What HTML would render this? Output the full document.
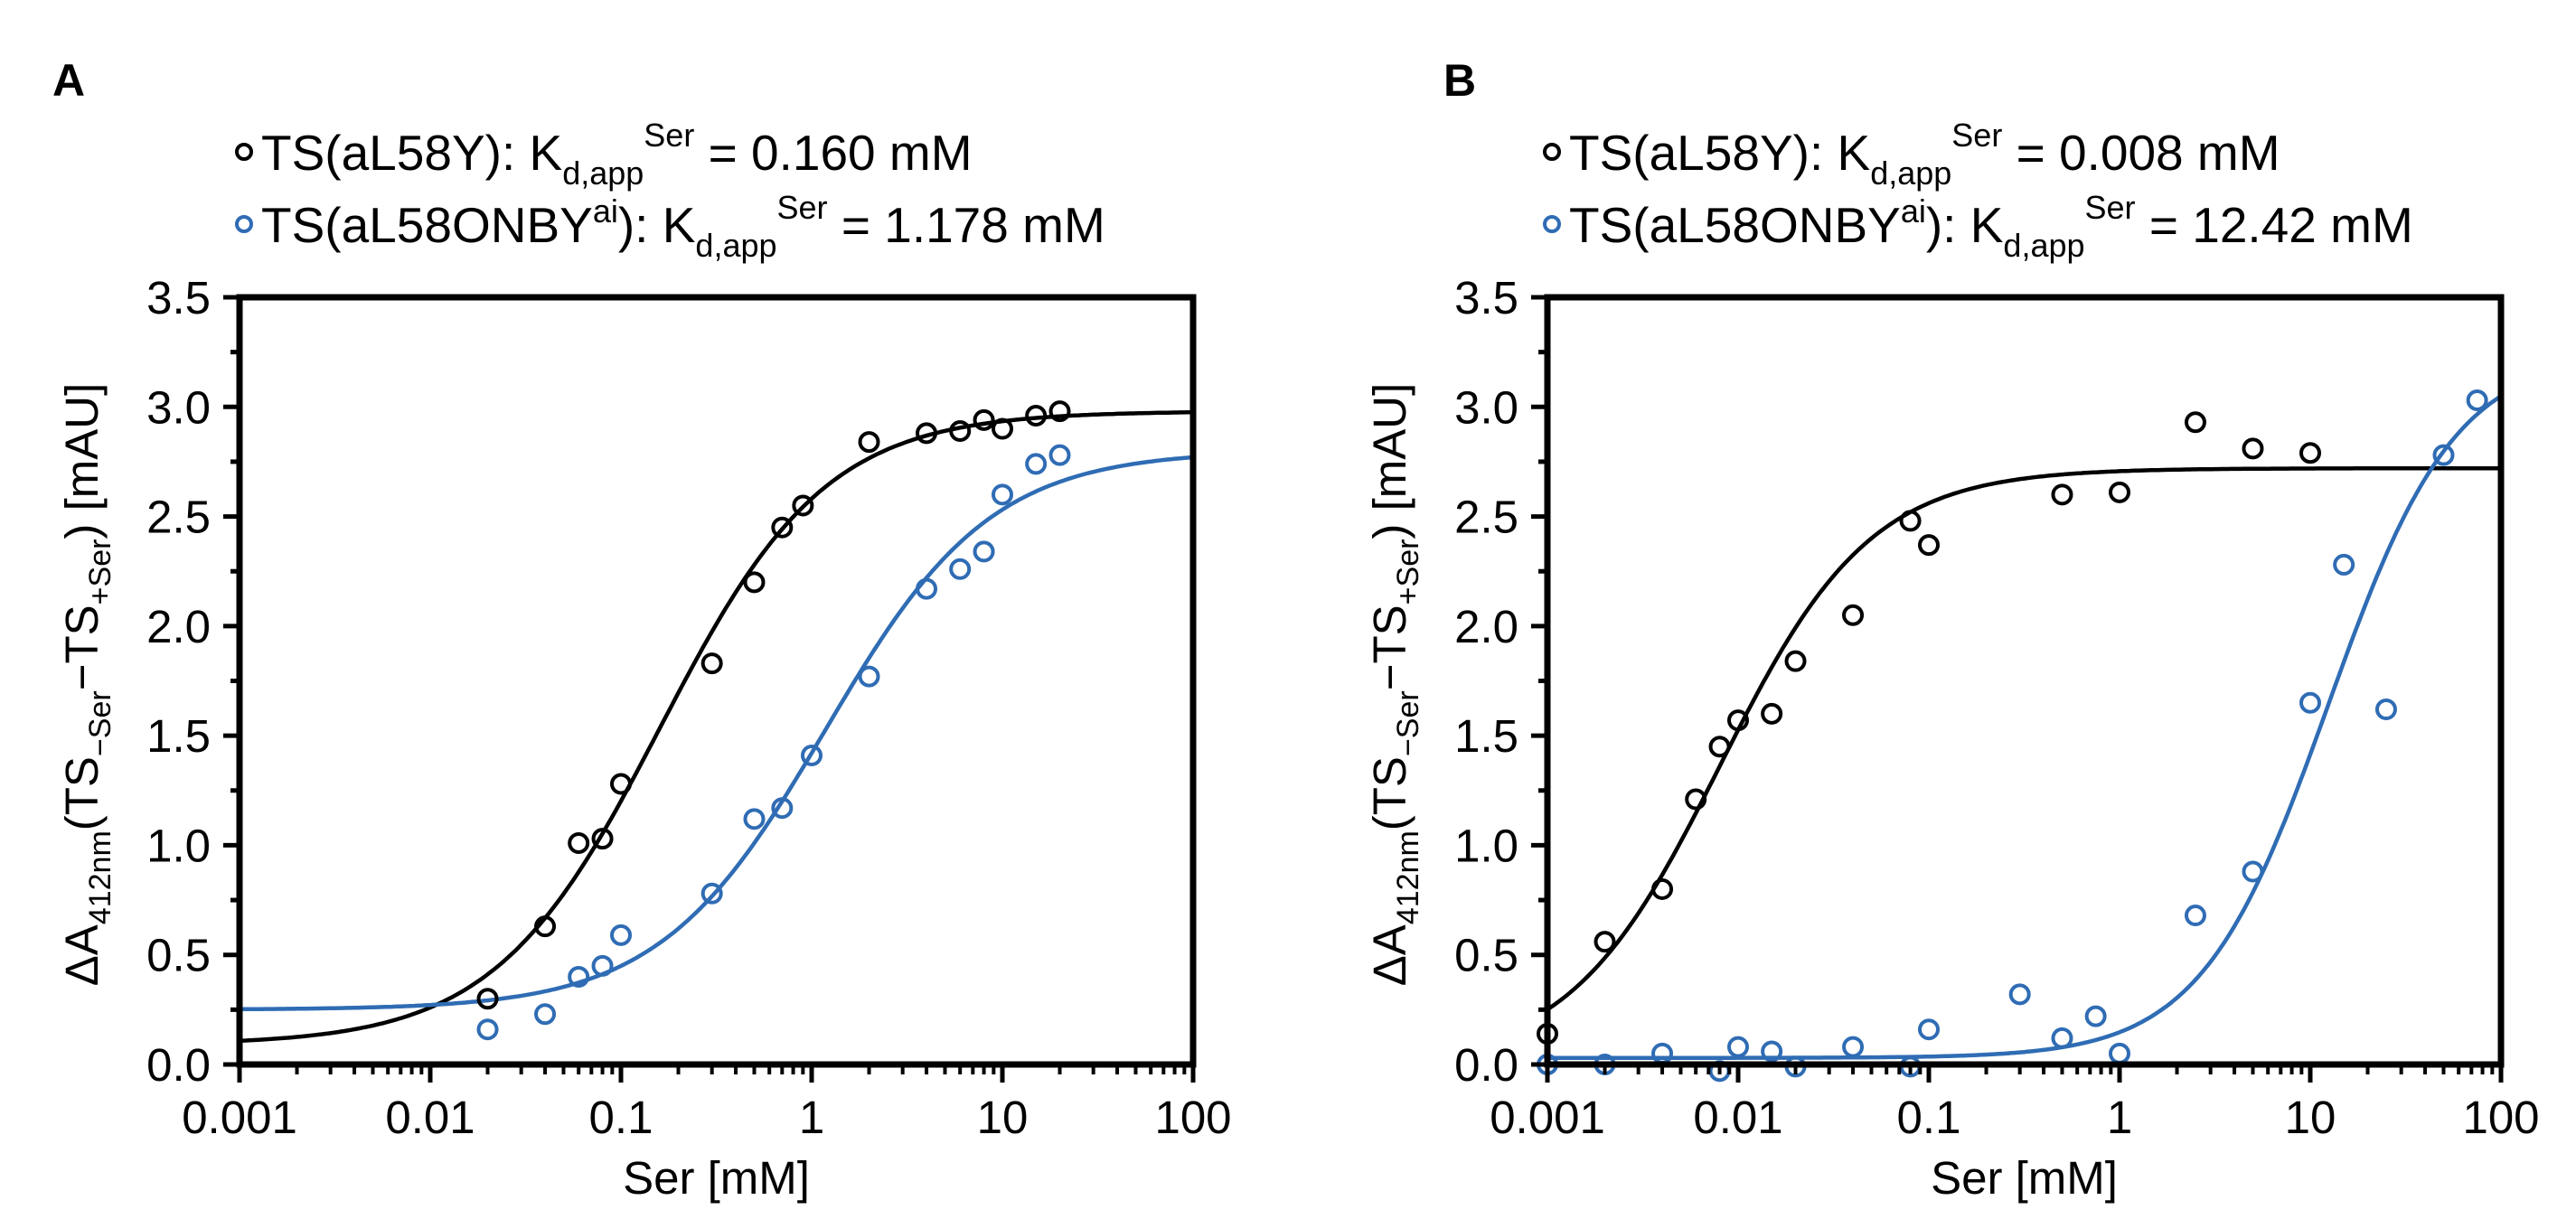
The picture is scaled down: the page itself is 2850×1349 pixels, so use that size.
<!DOCTYPE html>
<html><head><meta charset="utf-8"><style>
html,body{margin:0;padding:0;background:#fff;}
svg{display:block;font-family:"Liberation Sans",Arial,sans-serif;}
</style></head><body>
<svg id="fig" width="2850" height="1349" viewBox="0 0 2850 1349" xmlns="http://www.w3.org/2000/svg">
<rect width="2850" height="1349" fill="#fff"/>
<text x="58" y="106" font-size="50" font-weight="bold">A</text>
<text x="1597" y="106" font-size="50" font-weight="bold">B</text>
<g id="panelA"></g>
<g id="panelB"></g>
</svg>
<script>
// ---- data ----
const yTicks = [0,0.5,1.0,1.5,2.0,2.5,3.0,3.5];
const yTickLabels = ["0.0","0.5","1.0","1.5","2.0","2.5","3.0","3.5"];
const xTicks = [0.001,0.01,0.1,1,10,100];
const xTickLabels = ["0.001","0.01","0.1","1","10","100"];

const aBlackX = [0.02,0.04,0.06,0.08,0.1,0.3,0.5,0.7,0.9,2,4,6,8,10,15,20];
const aBlackY = [0.30,0.63,1.01,1.03,1.28,1.83,2.20,2.45,2.55,2.84,2.88,2.89,2.94,2.90,2.96,2.98];
const aBlueX = [0.02,0.04,0.06,0.08,0.1,0.3,0.5,0.7,1,2,4,6,8,10,15,20];
const aBlueY = [0.16,0.23,0.40,0.45,0.59,0.78,1.12,1.17,1.41,1.77,2.17,2.26,2.34,2.60,2.74,2.78];
const aBlackFit = [0.09,2.98,0.160,1.0]; // bottom, top, Kd, hill
const aBlueFit = [0.25,2.80,1.178,1.0];

const bBlackX = [0.001,0.002,0.004,0.006,0.008,0.01,0.015,0.02,0.04,0.08,0.1,0.5,1,2.5,5,10];
const bBlackY = [0.14,0.56,0.80,1.21,1.45,1.57,1.60,1.84,2.05,2.48,2.37,2.60,2.61,2.93,2.81,2.79];
const bBlueX = [0.001,0.002,0.004,0.008,0.01,0.015,0.02,0.04,0.08,0.1,0.3,0.5,0.75,1,2.5,5,10,15,25,50,75];
const bBlueY = [0.0,0.0,0.05,-0.03,0.08,0.06,-0.01,0.08,-0.01,0.16,0.32,0.12,0.22,0.05,0.68,0.88,1.65,2.28,1.62,2.78,3.03];
const bBlackFit = [0.0,2.72,0.008,1.1];
const bBlueFit = [0.03,3.25,12.42,1.3];

const legendA = ["0.160","1.178"];
const legendB = ["0.008","12.42"];

// ---- drawing ----
const NS="http://www.w3.org/2000/svg";
const BLUE="#2f6cb4";
function mk(tag,attrs,parent){const e=document.createElementNS(NS,tag);for(const k in attrs)e.setAttribute(k,attrs[k]);parent.appendChild(e);return e;}

function drawPanel(g,left,bX,bY,uX,uY,bFit,uFit,leg){
  const right=left+1055, top=329, bottom=1178;
  const sx=v=>left+(Math.log10(v)+3)*(right-left)/5;
  const sy=v=>bottom-v*(bottom-top)/3.5;
  function fitPath(p){let d="";for(let i=0;i<=300;i++){const lx=-3+5*i/300;const x=Math.pow(10,lx);const xn=Math.pow(x,p[3]);const y=p[0]+(p[1]-p[0])*xn/(Math.pow(p[2],p[3])+xn);d+=(i?"L":"M")+sx(x).toFixed(1)+","+sy(y).toFixed(1);}return d;}
  const fb=mk("path",{d:fitPath(bFit),fill:"none",stroke:"#000","stroke-width":4.5},g);
  
  
  const fu=mk("path",{d:fitPath(uFit),fill:"none",stroke:BLUE,"stroke-width":4.5},g);
  
  
  for(let i=0;i<bX.length;i++){const c=mk("circle",{cx:sx(bX[i]),cy:sy(bY[i]),r:10,fill:"none",stroke:"#000","stroke-width":4},g);
    
    }
  for(let i=0;i<uX.length;i++){const c=mk("circle",{cx:sx(uX[i]),cy:sy(uY[i]),r:10,fill:"none",stroke:BLUE,"stroke-width":4},g);
    
    }
  const fr=mk("rect",{x:left,y:top,width:right-left,height:bottom-top,fill:"none",stroke:"#000","stroke-width":7},g);
  
  
  for(let i=0;i<yTicks.length;i++){const y=sy(yTicks[i]);
    mk("line",{x1:left-18,x2:left,y1:y,y2:y,stroke:"#000","stroke-width":5},g);
    const t=mk("text",{x:left-32,y:y+18,"font-size":51,"text-anchor":"end"},g);t.textContent=yTickLabels[i];
    
    
    if(i<yTicks.length-1){const ym=sy(yTicks[i]+0.25);mk("line",{x1:left-10,x2:left,y1:ym,y2:ym,stroke:"#000","stroke-width":5},g);}
  }
  for(let i=0;i<xTicks.length;i++){const x=sx(xTicks[i]);
    mk("line",{x1:x,x2:x,y1:bottom,y2:bottom+20,stroke:"#000","stroke-width":5},g);
    const t=mk("text",{x:x,y:bottom+76,"font-size":51,"text-anchor":"middle"},g);t.textContent=xTickLabels[i];
    
    
    if(i<xTicks.length-1){for(let m=2;m<=9;m++){const xm=sx(xTicks[i]*m);mk("line",{x1:xm,x2:xm,y1:bottom,y2:bottom+11,stroke:"#000","stroke-width":4},g);}}
  }
  const xt=mk("text",{x:(left+right)/2,y:bottom+143,"font-size":51,"text-anchor":"middle"},g);xt.textContent="Ser [mM]";
  
  
  const cx=left-157, cy=(top+bottom)/2+4;
  const yt=mk("text",{x:0,y:0,"font-size":51,"text-anchor":"middle",transform:`translate(${cx},${cy}) rotate(-90)`},g);
  
  
  yt.innerHTML='ΔA<tspan font-size="34" dy="14">412nm</tspan><tspan dy="-14">(TS</tspan><tspan font-size="34" dy="14">−Ser</tspan><tspan dy="-14">−TS</tspan><tspan font-size="34" dy="14">+Ser</tspan><tspan dy="-14">) [mAU]</tspan>';
  const lx=left+2;
  const cols=["#000",BLUE];
  const ys=[188,268];
  for(let k=0;k<2;k++){
    const m=mk("circle",{cx:lx+3,cy:ys[k]-20,r:8,fill:"none",stroke:cols[k],"stroke-width":4},g);
    
    
    const t=mk("text",{x:lx+22,y:ys[k],"font-size":55},g);
    
    
    if(k===0) t.innerHTML='TS(aL58Y): K<tspan font-size="36" dy="16">d,app</tspan><tspan font-size="36" dy="-42">Ser</tspan><tspan dy="26"> = '+leg[0]+' mM</tspan>';
    else t.innerHTML='TS(aL58ONBY<tspan font-size="36" dy="-22">ai</tspan><tspan dy="22">): K</tspan><tspan font-size="36" dy="16">d,app</tspan><tspan font-size="36" dy="-42">Ser</tspan><tspan dy="26"> = '+leg[1]+' mM</tspan>';
  }
}
drawPanel(document.getElementById("panelA"),265,aBlackX,aBlackY,aBlueX,aBlueY,aBlackFit,aBlueFit,legendA);
drawPanel(document.getElementById("panelB"),1712,bBlackX,bBlackY,bBlueX,bBlueY,bBlackFit,bBlueFit,legendB);
</script>
</body></html>
